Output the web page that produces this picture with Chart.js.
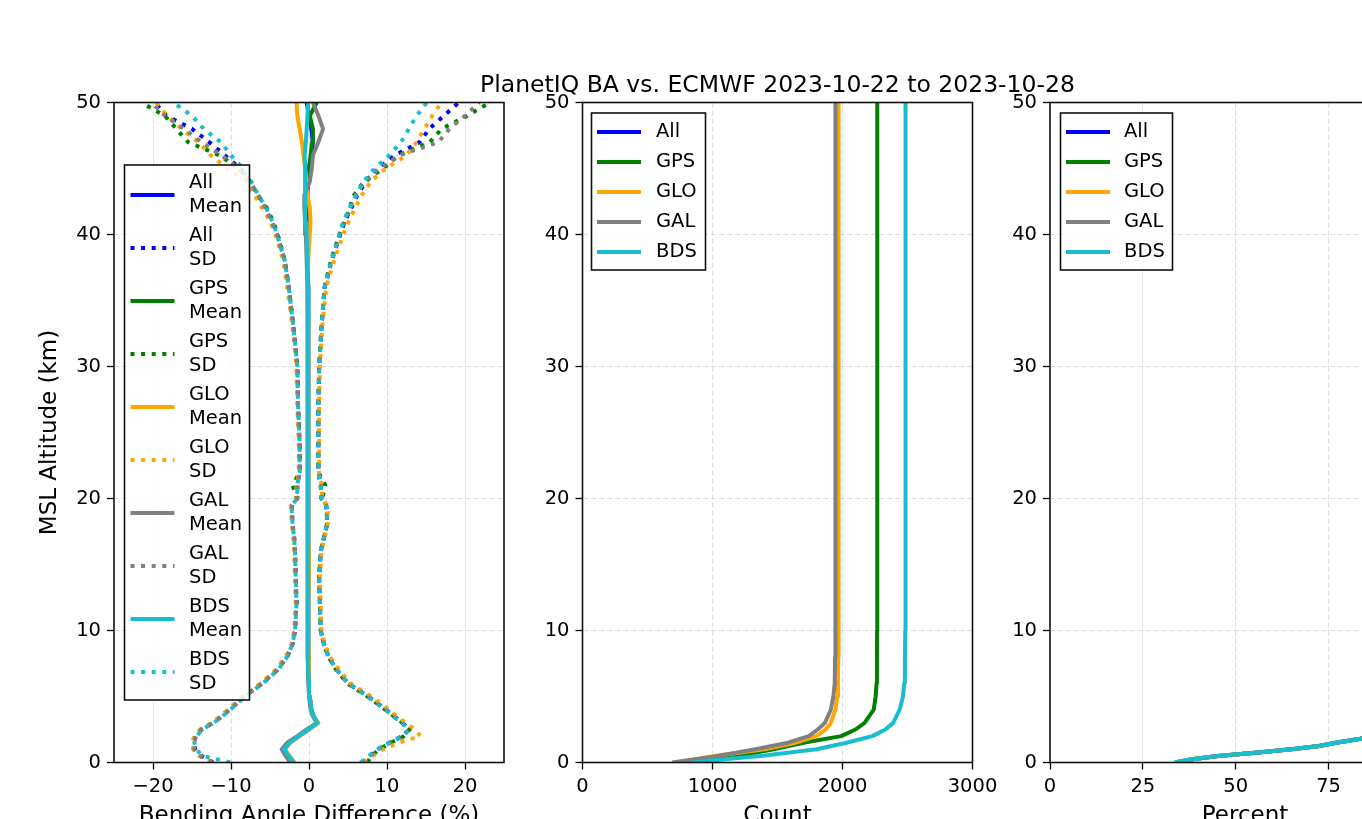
<!DOCTYPE html>
<html><head><meta charset="utf-8">
<script src="https://cdn.jsdelivr.net/npm/chart.js@4.4.0/dist/chart.umd.min.js"></script>
<style>
html,body{margin:0;padding:0;background:#fff;overflow:hidden;width:1362px;height:819px;position:relative;}
canvas{position:absolute;top:0;}
</style></head><body>
<canvas id="k1" width="540" height="860" style="left:0px;width:540px;height:860px"></canvas>
<canvas id="k2" width="700" height="860" style="left:400px;width:700px;height:860px"></canvas>
<canvas id="k3" width="530" height="860" style="left:950px;width:530px;height:860px"></canvas>
<script>
// ---------------- DATA ----------------
const systems = ['All', 'GPS', 'GLO', 'GAL', 'BDS'];
const colors = ['#0000ff', '#008000', '#ffa500', '#808080', '#17becf'];
const titleText = 'PlanetIQ BA vs. ECMWF 2023-10-22 to 2023-10-28';

const altTicks = [0, 10, 20, 30, 40, 50];
const baTicks = [-20, -10, 0, 10, 20];
const countTicks = [0, 1000, 2000, 3000];
const pctTicks = [0, 25, 50, 75, 100];

// Bending angle panel: altitude grid (km)
const altBA = [0, 0.5, 1, 1.5, 2, 2.5, 3, 3.5, 4, 5, 6, 7, 8, 9, 10, 12, 14, 16, 17, 18, 19, 19.5, 20, 21, 22, 24, 27, 30, 33, 36, 38, 40, 41, 42, 43, 44, 45, 46, 47, 48, 49, 50];

// Mean (%)
const meanAll = [-2.0, -2.6, -3.2, -2.5, -1.3, -0.1, 1.1, 0.6, 0.3, 0.1, 0.0, -0.1, -0.1, -0.1, -0.1, -0.1, -0.1, -0.1, -0.1, -0.1, -0.1, -0.1, -0.1, -0.1, -0.1, -0.1, -0.1, -0.1, -0.1, -0.1, -0.2, -0.3, -0.3, -0.3, -0.3, -0.2, 0.0, 0.3, 0.5, 0.3, 0.0, -0.3];
const meanGPS = [-1.9, -2.6, -3.1, -2.5, -1.3, -0.1, 1.1, 0.6, 0.3, 0.1, 0.0, -0.1, -0.1, -0.1, -0.1, -0.1, -0.1, -0.1, -0.1, -0.1, -0.1, -0.1, -0.1, -0.1, -0.1, -0.1, -0.1, -0.1, -0.1, -0.1, -0.2, -0.3, -0.3, -0.3, -0.2, -0.1, 0.0, 0.2, 0.4, 0.5, 0.1, 1.0];
const meanGLO = [-1.9, -2.5, -3.1, -2.4, -1.2, 0.0, 1.2, 0.6, 0.3, 0.1, 0.0, 0.0, 0.0, -0.1, -0.1, -0.1, 0.0, 0.0, -0.1, -0.1, -0.1, -0.1, -0.1, -0.1, -0.1, -0.1, -0.1, -0.1, -0.1, -0.2, -0.1, 0.1, 0.2, 0.1, -0.2, -0.3, -0.5, -0.7, -0.9, -1.2, -1.5, -1.6];
const meanGAL = [-2.4, -3.0, -3.5, -2.8, -1.5, -0.3, 1.0, 0.5, 0.2, 0.0, -0.1, -0.1, -0.2, -0.2, -0.2, -0.2, -0.2, -0.2, -0.2, -0.2, -0.2, -0.2, -0.2, -0.2, -0.2, -0.2, -0.2, -0.2, -0.2, -0.2, -0.3, -0.4, -0.5, -0.6, -0.6, 0.1, 0.35, 0.5, 1.2, 1.8, 1.2, 0.5];
const meanBDS = [-2.0, -2.6, -3.2, -2.5, -1.3, -0.1, 1.1, 0.6, 0.3, 0.1, 0.0, -0.1, -0.1, -0.1, -0.1, -0.1, -0.1, -0.1, -0.1, -0.1, -0.1, -0.1, -0.1, -0.1, -0.1, -0.1, -0.1, -0.1, -0.1, -0.1, -0.2, -0.3, -0.4, -0.5, -0.5, -0.5, -0.5, -0.55, -0.4, -0.3, -0.2, -0.1];

// Standard deviation (%), plotted as +SD and -SD
const sdAll = [6.8, 7.8, 8.8, 10.3, 12.0, 12.9, 12.0, 10.9, 9.9, 7.6, 5.0, 3.6, 2.5, 1.9, 1.5, 1.4, 1.3, 1.5, 1.9, 2.3, 2.3, 2.2, 1.6, 1.5, 1.2, 1.2, 1.2, 1.3, 1.6, 2.0, 2.9, 4.0, 4.6, 5.4, 6.2, 7.3, 8.8, 11.0, 14.2, 15.4, 17.3, 19.2];
const sdAllNeg = [-12.3, -13.8, -14.6, -14.8, -14.5, -13.8, -12.3, -11.2, -10.2, -8.3, -6.0, -4.1, -2.8, -2.1, -1.8, -1.6, -1.7, -1.8, -1.9, -2.1, -2.2, -2.2, -1.5, -1.5, -1.2, -1.2, -1.4, -1.5, -2.0, -2.6, -3.1, -4.1, -4.8, -5.6, -6.6, -7.6, -8.8, -10.8, -12.8, -15.0, -18.3, -19.8];
const sdGPS = [7.5, 8.0, 9.0, 10.5, 12.2, 12.9, 12.0, 10.9, 9.8, 7.5, 4.9, 3.5, 2.5, 1.9, 1.5, 1.4, 1.3, 1.5, 1.9, 2.3, 2.3, 2.2, 1.7, 2.1, 1.2, 1.2, 1.2, 1.3, 1.6, 2.0, 2.8, 3.9, 4.6, 5.2, 5.8, 7.0, 9.5, 11.5, 15.5, 17.0, 20.3, 23.2];
const sdGPSNeg = [-12.5, -14.0, -14.8, -14.9, -14.5, -13.8, -12.3, -11.2, -10.2, -8.3, -6.0, -4.1, -2.8, -2.1, -1.8, -1.6, -1.7, -1.8, -1.9, -2.1, -2.2, -2.2, -1.6, -2.1, -1.2, -1.2, -1.4, -1.5, -2.0, -2.6, -3.1, -4.0, -4.6, -5.4, -6.6, -7.5, -9.0, -11.5, -15.5, -17.0, -18.5, -21.5];
const sdGLO = [7.0, 8.2, 9.5, 11.5, 14.3, 13.6, 12.4, 11.3, 10.3, 8.0, 5.3, 3.9, 2.7, 2.0, 1.6, 1.5, 1.4, 1.6, 2.0, 2.4, 2.4, 2.3, 1.7, 1.6, 1.3, 1.3, 1.3, 1.4, 1.7, 2.2, 3.2, 4.4, 5.1, 5.9, 6.8, 7.9, 9.8, 12.5, 13.8, 14.8, 15.8, 17.0];
const sdGLONeg = [-12.5, -14.0, -14.8, -15.0, -14.7, -14.0, -12.5, -11.4, -10.4, -8.5, -6.2, -4.3, -3.0, -2.2, -1.9, -1.7, -1.8, -1.9, -2.0, -2.2, -2.3, -2.3, -1.6, -1.6, -1.3, -1.3, -1.5, -1.6, -2.1, -2.8, -3.3, -4.3, -5.0, -6.0, -7.0, -8.0, -10.5, -12.6, -14.2, -16.3, -18.2, -19.6];
const sdGAL = [6.8, 7.8, 8.8, 10.3, 12.0, 12.8, 11.9, 10.8, 9.8, 7.5, 5.0, 3.6, 2.5, 1.9, 1.5, 1.4, 1.3, 1.5, 1.9, 2.3, 2.3, 2.2, 1.6, 1.5, 1.2, 1.2, 1.2, 1.3, 1.6, 2.0, 2.8, 3.9, 4.5, 5.3, 6.0, 7.1, 9.0, 11.6, 16.6, 18.0, 20.0, 21.8];
const sdGALNeg = [-12.4, -13.9, -14.7, -14.8, -14.5, -13.8, -12.3, -11.2, -10.2, -8.3, -6.0, -4.1, -2.8, -2.1, -1.8, -1.6, -1.7, -1.8, -1.9, -2.1, -2.2, -2.2, -1.5, -1.5, -1.2, -1.2, -1.4, -1.5, -2.0, -2.6, -3.1, -4.1, -4.8, -5.6, -6.5, -7.6, -9.0, -11.2, -13.8, -16.0, -18.5, -20.2];
const sdBDS = [6.6, 7.7, 8.8, 10.3, 12.0, 12.8, 11.9, 10.8, 9.8, 7.5, 5.0, 3.6, 2.5, 1.9, 1.5, 1.4, 1.3, 1.5, 1.9, 2.3, 2.3, 2.2, 1.6, 1.5, 1.2, 1.2, 1.2, 1.3, 1.6, 2.0, 2.9, 3.9, 4.4, 5.2, 6.1, 7.0, 8.4, 10.3, 11.8, 12.8, 13.8, 15.1];
const sdBDSNeg = [-10.1, -13.6, -14.5, -14.7, -14.4, -13.7, -12.2, -11.1, -10.1, -8.2, -5.9, -4.0, -2.8, -2.1, -1.8, -1.6, -1.7, -1.8, -1.9, -2.1, -2.2, -2.2, -1.5, -1.5, -1.2, -1.2, -1.4, -1.5, -2.0, -2.6, -3.1, -4.1, -4.7, -5.5, -6.5, -7.4, -8.5, -10.0, -11.3, -13.5, -15.0, -17.4];

// Count panel
const altCount = [0, 0.25, 0.5, 1, 1.5, 2, 2.5, 3, 4, 5, 6, 8, 10, 20, 30, 40, 50];
const cntAll = [3080, 3960, 4630, 6000, 6950, 7760, 8110, 8340, 8535, 8610, 8642, 8655, 8662, 8667, 8668, 8669, 8669];
const cntGPS = [820, 1000, 1200, 1470, 1700, 1990, 2100, 2170, 2240, 2255, 2262, 2265, 2266, 2267, 2267, 2268, 2268];
const cntGLO = [720, 870, 1020, 1400, 1640, 1800, 1870, 1910, 1945, 1960, 1965, 1967, 1968, 1969, 1970, 1970, 1970];
const cntGAL = [690, 870, 1040, 1330, 1580, 1740, 1810, 1865, 1910, 1930, 1940, 1943, 1945, 1946, 1946, 1946, 1946];
const cntBDS = [850, 1090, 1370, 1800, 2030, 2230, 2330, 2390, 2440, 2465, 2475, 2480, 2483, 2484, 2485, 2485, 2485];

// Percent panel
const altPct = [0, 0.25, 0.5, 0.75, 1, 1.25, 1.5, 1.8, 2, 2.5, 3, 4, 5, 6, 10, 20, 30, 40, 50];
const pctAll = [33.8, 38.3, 45.3, 56.0, 65.0, 72.5, 77.0, 83.6, 86.5, 92.0, 95.5, 98.0, 99.0, 99.5, 99.8, 99.9, 100, 100, 100];
const pctGPS = [33.9, 38.4, 45.4, 56.2, 65.2, 72.6, 77.2, 83.8, 86.6, 92.1, 95.6, 98.0, 99.0, 99.5, 99.8, 99.9, 100, 100, 100];
const pctGLO = [33.7, 38.2, 45.2, 55.9, 64.9, 72.4, 76.9, 83.5, 86.4, 91.9, 95.4, 97.9, 98.9, 99.4, 99.8, 99.9, 100, 100, 100];
const pctGAL = [33.8, 38.2, 45.1, 55.8, 64.8, 72.3, 76.8, 83.4, 86.3, 91.8, 95.4, 97.9, 98.9, 99.4, 99.8, 99.9, 100, 100, 100];
const pctBDS = [33.5, 38.0, 45.0, 56.0, 65.0, 72.5, 77.0, 83.7, 86.5, 92.0, 95.5, 98.0, 99.0, 99.5, 99.8, 99.9, 100, 100, 100];

// ---------------- STYLE / HELPERS ----------------
const FONT = 'DejaVu Sans';
Chart.defaults.font.family = FONT;
Chart.defaults.color = '#000';
const TICK_FONT = 19.5, LABEL_FONT = 23, LEGEND_FONT = 19.5, TITLE_FONT = 23.5;
const LW = 4, DOT = [4, 6.6];

function fmt(v) { return String(v).replace('-', '\u2212'); }

function lineDS(label, xs, ys, color, dotted, order) {
  return {
    label, data: xs.map((x, i) => ({ x: x, y: ys[i] })),
    borderColor: color, backgroundColor: color, borderWidth: LW,
    borderDash: dotted ? DOT : [], borderCapStyle: 'butt', borderJoinStyle: 'round',
    pointRadius: 0, pointHoverRadius: 0, showLine: true, fill: false, tension: 0,
    order: order, clip: 0
  };
}

function axis(min, max, tickVals, titleText, isX, fixedSize, titlePad) {
  return {
    type: 'linear', min: min, max: max, position: isX ? 'bottom' : 'left',
    afterBuildTicks: s => { s.ticks = tickVals.map(v => ({ value: v })); },
    afterFit: s => { if (isX) s.height = fixedSize; else s.width = fixedSize; },
    ticks: { font: { size: TICK_FONT }, color: '#000', padding: 6, maxRotation: 0, autoSkip: false, callback: v => fmt(v) },
    grid: { color: 'rgba(0,0,0,0.13)', lineWidth: 1, drawTicks: true, tickLength: 7, tickColor: '#000', tickWidth: 1.3 },
    border: { display: false, dash: [5, 3] },
    title: { display: !!titleText, text: titleText || '', color: '#000', font: { size: LABEL_FONT }, padding: titlePad || 0 }
  };
}

const framePlugin = {
  id: 'mplFrame',
  afterDatasetsDraw(chart) {
    const { ctx, chartArea: a } = chart;
    ctx.save();
    ctx.strokeStyle = '#111';
    ctx.lineWidth = 1.6;
    ctx.setLineDash([]);
    ctx.strokeRect(a.left, a.top, a.right - a.left, a.bottom - a.top);
    ctx.restore();
  }
};

const legendPlugin = {
  id: 'mplLegend',
  afterDraw(chart, args, opts) {
    if (!opts || !opts.items) return;
    const { ctx, chartArea: a } = chart;
    const bx = a.left + opts.dx, by = a.top + opts.dy;
    ctx.save();
    ctx.fillStyle = 'rgba(255,255,255,0.85)';
    ctx.fillRect(bx, by, opts.w, opts.h);
    ctx.strokeStyle = '#111';
    ctx.lineWidth = 1.6;
    ctx.strokeRect(bx, by, opts.w, opts.h);
    ctx.font = LEGEND_FONT + 'px "' + FONT + '"';
    ctx.textBaseline = 'middle';
    ctx.textAlign = 'left';
    opts.items.forEach((it, k) => {
      const y = by + opts.y0 + k * opts.step;
      ctx.beginPath();
      ctx.strokeStyle = it.color;
      ctx.lineWidth = LW;
      ctx.lineCap = 'butt';
      ctx.setLineDash(it.dotted ? DOT : []);
      ctx.moveTo(bx + opts.l0, y);
      ctx.lineTo(bx + opts.l1, y);
      ctx.stroke();
      ctx.setLineDash([]);
      ctx.fillStyle = '#000';
      const lines = it.text;
      const lh = LEGEND_FONT * 1.2;
      lines.forEach((t, j) => {
        ctx.fillText(t, bx + opts.tx, y + (j - (lines.length - 1) / 2) * lh);
      });
    });
    ctx.restore();
  }
};

const titlePlugin = {
  id: 'mplTitle',
  afterDraw(chart, args, opts) {
    if (!opts || !opts.text) return;
    const { ctx, chartArea: a } = chart;
    ctx.save();
    ctx.font = TITLE_FONT + 'px "' + FONT + '"';
    ctx.fillStyle = '#000';
    ctx.textAlign = 'center';
    ctx.textBaseline = 'alphabetic';
    ctx.fillText(opts.text, (a.left + a.right) / 2, a.top + opts.dy);
    ctx.restore();
  }
};

function baseOptions(padding, scales, plugins) {
  return {
    responsive: false, animation: false, events: [],
    layout: { padding: padding },
    scales: scales,
    plugins: Object.assign({ legend: { display: false }, tooltip: { enabled: false }, title: { display: false } }, plugins)
  };
}

// ---------------- PANEL 1: Bending angle ----------------
const meanArr = [meanAll, meanGPS, meanGLO, meanGAL, meanBDS];
const sdPos = [sdAll, sdGPS, sdGLO, sdGAL, sdBDS];
const sdNeg = [sdAllNeg, sdGPSNeg, sdGLONeg, sdGALNeg, sdBDSNeg];
const ds1 = [];
let ord = 100;
systems.forEach((s, i) => {
  ds1.push(lineDS(s + ' Mean', meanArr[i], altBA, colors[i], false, ord--));
  ds1.push(lineDS(s + ' SD', sdPos[i], altBA, colors[i], true, ord--));
  ds1.push(lineDS(s + ' SD', sdNeg[i], altBA, colors[i], true, ord--));
});
const leg1 = [];
systems.forEach((s, i) => {
  leg1.push({ text: [s, 'Mean'], color: colors[i], dotted: false });
  leg1.push({ text: [s, 'SD'], color: colors[i], dotted: true });
});
new Chart(document.getElementById('k1'), {
  type: 'scatter',
  data: { datasets: ds1 },
  options: baseOptions({ left: 0, top: 102.5, right: 36, bottom: 27.5 }, {
    x: axis(-25, 25, baTicks, 'Bending Angle Difference (%)', true, 70, { top: 0, bottom: 3 }),
    y: axis(0, 50, altTicks, 'MSL Altitude (km)', false, 114, { top: 36, bottom: 0 })
  }, { mplLegend: { items: leg1, dx: 10.5, dy: 62.5, w: 125, h: 535, y0: 30, step: 53, l0: 6, l1: 50, tx: 64.5 } }),
  plugins: [framePlugin, legendPlugin]
});

// ---------------- PANEL 2: Count ----------------
const cntArr = [cntAll, cntGPS, cntGLO, cntGAL, cntBDS];
const ds2 = systems.map((s, i) => lineDS(s, cntArr[i], altCount, colors[i], false, 10 - i));
const leg23 = systems.map((s, i) => ({ text: [s], color: colors[i], dotted: false }));
new Chart(document.getElementById('k2'), {
  type: 'scatter',
  data: { datasets: ds2 },
  options: baseOptions({ left: 0, top: 102.5, right: 127.5, bottom: 27.5 }, {
    x: axis(0, 3000, countTicks, 'Count', true, 70, { top: 0, bottom: 3 }),
    y: axis(0, 50, altTicks, '', false, 182.5)
  }, {
    mplLegend: { items: leg23, dx: 9, dy: 10.5, w: 114, h: 157, y0: 19, step: 30, l0: 5.5, l1: 49.5, tx: 64.5 },
    mplTitle: { text: titleText, dy: -11 }
  }),
  plugins: [framePlugin, legendPlugin, titlePlugin]
});

// ---------------- PANEL 3: Percent ----------------
const pctArr = [pctAll, pctGPS, pctGLO, pctGAL, pctBDS];
const ds3 = systems.map((s, i) => lineDS(s, pctArr[i], altPct, colors[i], false, 10 - i));
new Chart(document.getElementById('k3'), {
  type: 'scatter',
  data: { datasets: ds3 },
  options: baseOptions({ left: 0, top: 102.5, right: 40, bottom: 27.5 }, {
    x: axis(0, 105, pctTicks, 'Percent', true, 70, { top: 0, bottom: 3 }),
    y: axis(0, 50, altTicks, '', false, 100)
  }, {
    mplLegend: { items: leg23, dx: 10.5, dy: 10.5, w: 112, h: 157, y0: 19, step: 30, l0: 5.5, l1: 49.5, tx: 63.5 }
  }),
  plugins: [framePlugin, legendPlugin]
});
</script>
</body></html>
